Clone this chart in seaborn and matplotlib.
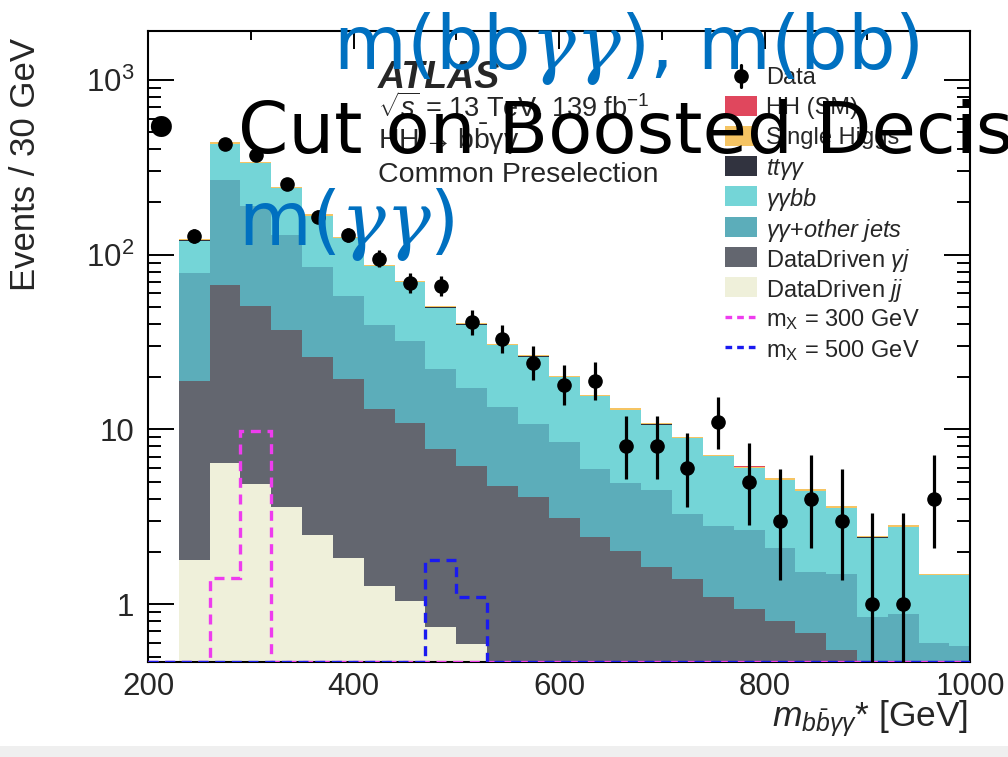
import numpy as np
import pandas as pd
import matplotlib
matplotlib.use("Agg")
import matplotlib.pyplot as plt
from matplotlib.lines import Line2D
from matplotlib.patches import Rectangle
from matplotlib.ticker import (FixedLocator, FixedFormatter, LogLocator,
                               MultipleLocator, NullFormatter)
import seaborn as sns

# ---- binning: 30 GeV bins starting at 230 GeV ----
bin_edges = np.arange(230, 1011, 30)

# ---- observed events per bin (last bin empty) ----
data_counts = [128, 427, 369, 255, 165, 130, 95, 69, 66, 41, 33, 24, 18,
               19, 8, 8, 6, 11, 5, 3, 4, 3, 1, 1, 4]

# ---- stacked backgrounds / signal (events per bin) ----
hh_sm = [0.010, 0.024, 0.030, 0.034, 0.034, 0.032, 0.028, 0.024, 0.020,
         0.016, 0.013, 0.010, 0.008, 0.006, 0.005, 0.004, 0.003, 0.0025,
         0.002, 0.0016, 0.0012, 0.001, 0.0008, 0.0008, 0.0006, 0.0006]
single_higgs = [1.9, 6.5, 5.2, 3.8, 2.7, 2.0, 1.4, 1.15, 0.85, 0.68, 0.53,
                0.46, 0.35, 0.28, 0.23, 0.19, 0.16, 0.13, 0.11, 0.095, 0.082,
                0.066, 0.045, 0.052, 0.028, 0.028]
tt_gg = [0.25, 0.8, 0.6, 0.45, 0.3, 0.22, 0.16, 0.13, 0.09, 0.07, 0.06, 0.05,
         0.036, 0.028, 0.024, 0.02, 0.016, 0.013, 0.011, 0.01, 0.008, 0.007,
         0.005, 0.005, 0.003, 0.003]
gg_bb = [41.8, 163.6, 142.0, 110.6, 81.8, 65.9, 46.6, 37.7, 27.6, 22.5, 16.9,
         15.3, 11.43, 9.52, 7.96, 6.15, 5.64, 4.21, 3.35, 3.03, 2.92, 2.08,
         1.56, 1.90, 0.862, 0.889]
gg_other_jets = [59.5, 200.3, 139.2, 91.8, 59.1, 38.4, 26.2, 21.0, 14.5,
                 11.15, 8.67, 6.71, 5.34, 3.52, 2.96, 2.87, 1.89, 1.71, 1.73,
                 1.31, 0.84, 0.94, 0.45, 0.55, 0.32, 0.32]
dd_gj = [17.2, 60.3, 45.9, 33.6, 23.4, 17.5, 11.9, 9.86, 6.99, 5.56, 4.73,
         4.09, 3.10, 2.43, 2.01, 1.64, 1.39, 1.10, 0.94, 0.80, 0.69, 0.55,
         0.40, 0.33, 0.28, 0.26]
dd_jj = [1.79, 6.4, 4.87, 3.58, 2.49, 1.83, 1.27, 1.04, 0.74, 0.59, 0, 0, 0,
         0, 0, 0, 0, 0, 0, 0, 0, 0, 0, 0, 0, 0]

# ---- resonant signal hypotheses ----
sig_mx300 = [0, 1.41, 9.77, 0, 0, 0, 0, 0, 0, 0, 0, 0, 0, 0, 0, 0, 0, 0, 0,
             0, 0, 0, 0, 0, 0, 0]
sig_mx500 = [0, 0, 0, 0, 0, 0, 0, 0, 1.79, 1.10, 0, 0, 0, 0, 0, 0, 0, 0, 0,
             0, 0, 0, 0, 0, 0, 0]

process_names = ["HH (SM)", "Single Higgs", "ttγγ", "γγbb", "γγ+other jets",
                 "DataDriven γj", "DataDriven jj"]
process_values = [hh_sm, single_higgs, tt_gg, gg_bb, gg_other_jets, dd_gj, dd_jj]
process_colors = ["#E0475D", "#F5C463", "#31333F", "#74D5D7", "#5CADBA",
                  "#63666F", "#EFF0DA"]
legend_labels = ["HH (SM)", "Single Higgs", r"$tt\gamma\gamma$",
                 r"$\gamma\gamma bb$", r"$\gamma\gamma\mathit{+other\ jets}$",
                 r"DataDriven $\gamma j$", r"DataDriven $jj$"]
signal_labels = [r"m$_\mathregular{X}$ = 300 GeV", r"m$_\mathregular{X}$ = 500 GeV"]
signal_colors = ["#EE3CEE", "#1A1AF0"]

x_range = (200, 1000)
y_range = (0.468, 1900)

# ---- style ----
sns.set_style("ticks")
plt.rcParams["font.family"] = ["Liberation Sans", "DejaVu Sans"]
plt.rcParams["mathtext.fontset"] = "custom"
plt.rcParams["mathtext.rm"] = "Liberation Sans"
plt.rcParams["mathtext.it"] = "Liberation Sans:italic"
plt.rcParams["mathtext.bf"] = "Liberation Sans:bold"
plt.rcParams["mathtext.sf"] = "Liberation Sans"

W, H = 1008, 757
fig = plt.figure(figsize=(W / 100, H / 100), dpi=100)


def fx(px):
    return px / W


def fy(py):
    return 1 - py / H


ax = fig.add_axes([fx(148), fy(662), fx(970) - fx(148), fy(31) - fy(662)])
ax.set_yscale("log")

centers = (bin_edges[:-1] + bin_edges[1:]) / 2
frames = [pd.DataFrame({"mass": centers, "events": vals, "process": name})
          for name, vals in zip(process_names, process_values)]
df = pd.concat(frames, ignore_index=True)

sns.histplot(data=df, x="mass", weights="events", hue="process",
             hue_order=process_names,
             palette=dict(zip(process_names, process_colors)),
             multiple="stack", bins=[float(e) for e in bin_edges],
             element="step", fill=True, alpha=1, linewidth=0, legend=False,
             ax=ax)

# signal outlines, floored at the axis minimum so they run along the bottom
sig_edges = np.r_[x_range[0], bin_edges]
for vals, col in zip([sig_mx300, sig_mx500], signal_colors):
    ax.stairs(np.clip(np.r_[0, vals], y_range[0], None), sig_edges,
              baseline=None, color=col, lw=2.4, linestyle=(0, (3, 2)),
              zorder=4)

# data with approximate Poisson (Gehrels) intervals
n = np.array(data_counts, dtype=float)
err_hi = np.sqrt(n + 0.75) + 1.0
err_lo = n - n * (1 - 1 / (9 * n) - 1 / (3 * np.sqrt(n))) ** 3
ax.errorbar(centers[:len(n)], n, yerr=[err_lo, err_hi], fmt="o",
            color="black", ms=9.5, elinewidth=2.3, capsize=0, zorder=6)

# ---- axes ----
ax.set_xlim(*x_range)
ax.set_ylim(*y_range)
ax.xaxis.set_major_locator(MultipleLocator(200))
ax.xaxis.set_minor_locator(MultipleLocator(100))
ax.yaxis.set_major_locator(FixedLocator([1, 10, 100, 1000]))
ax.yaxis.set_major_formatter(FixedFormatter(
    ["1", "10", r"$\mathregular{10^{2}}$", r"$\mathregular{10^{3}}$"]))
ax.yaxis.set_minor_locator(LogLocator(base=10, subs=np.arange(2, 10)))
ax.yaxis.set_minor_formatter(NullFormatter())
ax.tick_params(which="both", direction="in", top=True, right=True,
               labelsize=22.5, width=1.4, color="black")
ax.tick_params(axis="x", which="major", length=12.7, pad=7)
ax.tick_params(axis="x", which="minor", length=6.5)
ax.tick_params(axis="y", which="major", length=18.7, pad=10)
ax.tick_params(axis="y", which="minor", length=9.4)
for sp in ax.spines.values():
    sp.set_linewidth(1.5)
    sp.set_color("black")

ax.set_ylabel("Events / 30 GeV", fontsize=25, loc="top")
ax.yaxis.set_label_coords(-0.129, 0.989)
ax.set_xlabel(r"$m_{b\bar{b}\gamma\gamma}$* [GeV]", fontsize=25.5, loc="right")
ax.xaxis.set_label_coords(0.998, -0.058)

# ---- legend (evenly spaced rows) ----
row_y = [75.5 + 30.2 * i for i in range(10)]
key_x0, key_x1, text_x = 725, 757, 766
legend_fs = 17

# Data: marker with vertical error bar
fig.add_artist(Line2D([fx(741)] * 2, [fy(row_y[0] - 11), fy(row_y[0] + 11)],
                      color="black", lw=2.3))
fig.add_artist(Line2D([fx(741)], [fy(row_y[0])], marker="o", ms=9.5,
                      color="black", linestyle="none"))
fig.text(fx(text_x), fy(row_y[0]), "Data", fontsize=legend_fs,
         va="center_baseline")

for i, (lab, col) in enumerate(zip(legend_labels, process_colors), start=1):
    fig.add_artist(Rectangle((fx(key_x0), fy(row_y[i] + 10)),
                             fx(key_x1) - fx(key_x0), fy(row_y[i] - 10) - fy(row_y[i] + 10),
                             transform=fig.transFigure, facecolor=col,
                             edgecolor="none"))
    fig.text(fx(text_x), fy(row_y[i]), lab, fontsize=legend_fs,
             va="center_baseline")

for j, (lab, col) in enumerate(zip(signal_labels, signal_colors), start=8):
    fig.add_artist(Line2D([fx(key_x0), fx(key_x1)], [fy(row_y[j])] * 2,
                          color=col, lw=2.4, linestyle=(0, (2, 1.5))))
    fig.text(fx(text_x), fy(row_y[j]), lab, fontsize=legend_fs,
             va="center_baseline")

# ---- ATLAS label block ----
fig.text(fx(378), fy(88), "ATLAS", fontsize=27, fontweight="bold",
         fontstyle="italic", va="baseline")
fig.text(fx(378), fy(116), r"$\sqrt{s}$ = 13 TeV, 139 fb$^{-1}$",
         fontsize=19.5, va="baseline")
fig.text(fx(378), fy(149),
         r"HH$\rightarrow\mathrm{b\bar{b}}\mathrm{\gamma\gamma}$",
         fontsize=20.5, va="baseline")
fig.text(fx(378), fy(182), "Common Preselection", fontsize=20.5,
         va="baseline")

# ---- slide annotations ----
blue = "#0070C0"
fig.text(fx(333), fy(69), r"m(bb$\gamma\gamma$), m(bb)", fontsize=54,
         color=blue, family="DejaVu Sans", math_fontfamily="dejavuserif",
         va="baseline", zorder=10)
fig.text(fx(160), fy(153), "•", fontsize=52, color="black",
         family="DejaVu Sans", ha="center", va="baseline", zorder=10)
fig.text(fx(238), fy(153), "Cut on Boosted Decision Tree",
         fontsize=52, color="black", family="DejaVu Sans", va="baseline",
         zorder=10)
fig.text(fx(238), fy(245), r"m($\gamma\gamma$)", fontsize=54,
         color=blue, family="DejaVu Sans", math_fontfamily="dejavuserif",
         va="baseline", zorder=10)

fig.patches.append(Rectangle((0, 0), 1, 11 / H, transform=fig.transFigure,
                             facecolor="#EFEFEF", edgecolor="none", zorder=-1))

fig.savefig("out.png", dpi=100)
